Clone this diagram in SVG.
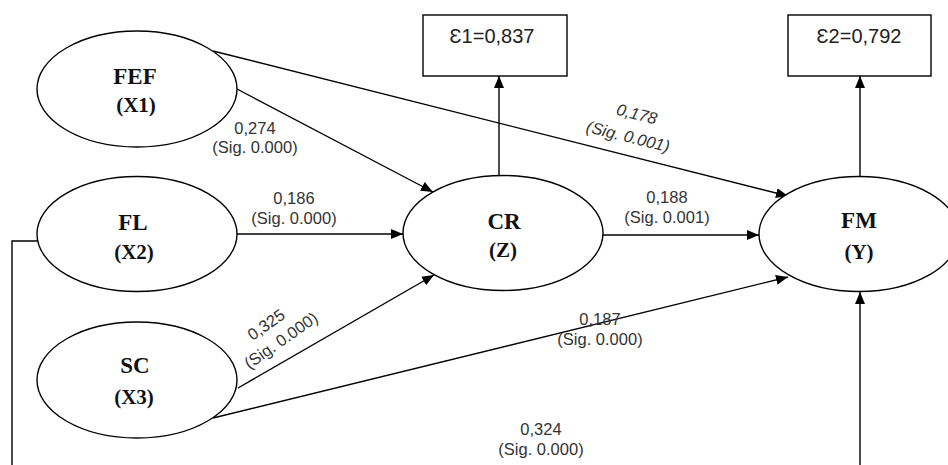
<svg xmlns="http://www.w3.org/2000/svg" width="948" height="465" viewBox="0 0 948 465">
<style>
  .node ellipse { fill: #fff; stroke: #000; stroke-width: 1.4; }
  .box rect { fill: #fff; stroke: #000; stroke-width: 1.4; }
  .nm { font-family: "Liberation Serif", "Times New Roman", serif; font-weight: bold; font-size: 23px; fill: #111; text-anchor: middle; }
  .sub { font-family: "Liberation Serif", "Times New Roman", serif; font-weight: bold; font-size: 21px; fill: #111; text-anchor: middle; }
  .err { font-family: "Liberation Sans", Arial, "DejaVu Sans", sans-serif; font-size: 20px; fill: #222; text-anchor: middle; }
  .lbl { font-family: "Liberation Sans", Arial, sans-serif; font-size: 16.5px; fill: #333; text-anchor: middle; }
  .it { font-style: italic; }
  .edge { fill: none; stroke: #000; stroke-width: 1.4; }
  .arr { marker-end: url(#ah); }
</style>
<defs>
  <marker id="ah" markerUnits="userSpaceOnUse" markerWidth="12" markerHeight="10" viewBox="0 0 12 10" refX="12" refY="5" orient="auto">
    <path d="M0,0 L12,5 L0,10 Z" fill="#000"/>
  </marker>
</defs>
<rect width="948" height="465" fill="#fff"/>

<g id="connectors">
  <path class="edge arr" d="M237,89 L433,192"/>
  <path class="edge arr" d="M213,51 L788,196"/>
  <path class="edge arr" d="M237,234 L403,234"/>
  <path class="edge arr" d="M238,388 L434,275"/>
  <path class="edge arr" d="M213,418 L788,277"/>
  <path class="edge arr" d="M603,235 L759,235"/>
  <path class="edge arr" d="M499,176 L499,76"/>
  <path class="edge arr" d="M860,177 L860,76"/>
  <path class="edge arr" d="M860,465 L860,292"/>
  <path class="edge" d="M37,241 H12 V465"/>
</g>

<g id="labels">
  <text class="lbl" x="255" y="134">0,274</text>
  <text class="lbl" x="255" y="153">(Sig. 0.000)</text>
  <text class="lbl" x="294" y="204">0,186</text>
  <text class="lbl" x="294" y="224">(Sig. 0.000)</text>
  <text class="lbl" x="667" y="203">0,188</text>
  <text class="lbl" x="667" y="223">(Sig. 0.001)</text>
  <text class="lbl" x="600" y="325">0,187</text>
  <text class="lbl" x="600" y="345">(Sig. 0.000)</text>
  <text class="lbl" x="541" y="435">0,324</text>
  <text class="lbl" x="541" y="455">(Sig. 0.000)</text>
  <g class="it" transform="translate(632.5,125) rotate(14)">
    <text class="lbl" x="1.5" y="-6">0,178</text>
    <text class="lbl" x="-1.5" y="18">(Sig. 0.001)</text>
  </g>
  <g transform="translate(273.5,332.5) rotate(-35)">
    <text class="lbl" x="-1.5" y="-5">0,325</text>
    <text class="lbl" x="1.5" y="16.5">(Sig. 0.000)</text>
  </g>
</g>

<g id="FEF" class="node">
  <ellipse cx="137" cy="89" rx="100" ry="58"/>
  <text class="nm" x="135" y="84">FEF</text>
  <text class="sub" x="136" y="112">(X1)</text>
</g>
<g id="FL" class="node">
  <ellipse cx="137" cy="234" rx="100" ry="57.5"/>
  <text class="nm" x="133" y="230">FL</text>
  <text class="sub" x="134" y="259">(X2)</text>
</g>
<g id="SC" class="node">
  <ellipse cx="137" cy="380" rx="100" ry="58"/>
  <text class="nm" x="135" y="373">SC</text>
  <text class="sub" x="134" y="404">(X3)</text>
</g>
<g id="CR" class="node">
  <ellipse cx="503" cy="233" rx="100" ry="57.5"/>
  <text class="nm" x="504" y="229">CR</text>
  <text class="sub" x="503" y="257">(Z)</text>
</g>
<g id="FM" class="node">
  <ellipse cx="859" cy="234" rx="100" ry="57.5"/>
  <text class="nm" x="859" y="228">FM</text>
  <text class="sub" x="859" y="259">(Y)</text>
</g>
<g id="E1" class="box">
  <rect x="423" y="15" width="144" height="61"/>
  <text class="err" x="492" y="43">Ɛ1=0,837</text>
</g>
<g id="E2" class="box">
  <rect x="788" y="15" width="143" height="61"/>
  <text class="err" x="859" y="43">Ɛ2=0,792</text>
</g>
</svg>
